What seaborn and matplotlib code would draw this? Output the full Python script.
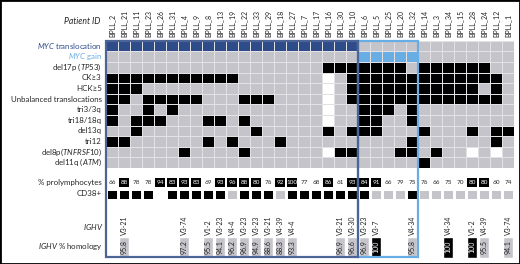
import numpy as np
import pandas as pd
import matplotlib.pyplot as plt
import seaborn as sns
from matplotlib.colors import ListedColormap, BoundaryNorm
from matplotlib.patches import Rectangle
from matplotlib.transforms import blended_transform_factory

# %% data
patients = ['BPLL_2', 'BPLL_21', 'BPLL_11', 'BPLL_23', 'BPLL_26', 'BPLL_31', 'BPLL_4', 'BPLL_9',
            'BPLL_8', 'BPLL_13', 'BPLL_19', 'BPLL_22', 'BPLL_33', 'BPLL_29', 'BPLL_18', 'BPLL_27',
            'BPLL_7', 'BPLL_17', 'BPLL_16', 'BPLL_30', 'BPLL_10', 'BPLL_6', 'BPLL_5', 'BPLL_25',
            'BPLL_20', 'BPLL_32', 'BPLL_14', 'BPLL_3', 'BPLL_34', 'BPLL_15', 'BPLL_28', 'BPLL_24',
            'BPLL_12', 'BPLL_1']

# 1 = present, 0 = absent, 2 = not available
myc_translocation = [1] * 21 + [0] * 13
myc_gain = [0] * 21 + [1] * 5 + [0] * 8
del17p = [0] * 18 + [1, 1, 1, 1, 1, 1, 1, 0, 1, 1, 1, 1, 1, 1, 0, 0]
ck3 = [1] * 11 + [0] * 7 + [2, 0] + [1] * 13 + [0]
hck5 = [1] * 3 + [0] * 15 + [2, 0] + [1] * 11 + [0, 1, 0]
unbalanced = [1, 1, 0, 1, 1, 1, 1, 1, 0, 0, 0, 1, 1, 1, 0, 0, 0, 0, 2, 0] + [1] * 13 + [0]
tri3 = [1, 0, 0, 1, 0, 1, 0, 0, 0, 0, 0, 0, 0, 0, 0, 0, 0, 0, 2, 0, 0, 1, 1, 1, 0, 1, 0, 0, 0, 0, 0, 0, 0, 0]
tri18 = [1, 0, 1, 1, 1, 0, 0, 0, 1, 1, 0, 1, 0, 0, 0, 0, 0, 0, 2, 0, 0, 1, 1, 0, 0, 1, 0, 0, 0, 0, 0, 0, 0, 0]
del13q = [0, 0, 1, 0, 0, 0, 0, 0, 0, 0, 0, 0, 1, 0, 0, 0, 0, 0, 1, 0, 1, 1, 1, 0, 0, 0, 1, 0, 0, 0, 1, 0, 1, 1]
tri12 = [1, 1, 0, 0, 0, 0, 0, 0, 1, 0, 1, 0, 0, 0, 1, 0, 0, 0, 0, 0, 0, 0, 0, 0, 0, 1, 0, 0, 0, 0, 0, 0, 1, 0]
del8p = [0, 0, 0, 0, 0, 0, 1, 0, 0, 0, 0, 1, 0, 0, 0, 0, 0, 0, 2, 1, 1, 0, 0, 0, 1, 1, 0, 1, 0, 0, 2, 0, 2, 0]
del11q = [0] * 26 + [1] + [0] * 7

prolymphocytes = [66, 88, 78, 78, 94, 83, 93, 83, 69, 93, 96, 88, 80, 76, 92, 100, 77, 68, 86, 61, 93,
                  84, 91, 66, 79, 75, 76, 66, 75, 70, 80, 80, 60, 74]
cd38 = [1, 1, 1, 1, np.nan, 1, 1, 1, 1, 1, 0, 1, 1, 1, 0, 1, 1, 1, 1, 1, 1,
        1, 0, 0, 0, 1, 0, 0, 0, 0, 0, 0, 0, 0]

ighv_gene = ['', 'V3-21', '', '', '', '', 'V3-74', '', 'V1-2', 'V3-23', 'V4-4', 'V3-23', 'V3-23',
             'V3-21', 'V4-39', 'V4-4', '', '', '', 'V3-21', 'V3-30', 'V3-23', 'V3-7', '', '',
             'V4-34', '', '', 'V4-34', '', 'V1-2', 'V4-39', '', 'V3-74']
ighv_homology = [np.nan, 95.8, np.nan, np.nan, np.nan, np.nan, 97.2, np.nan, 95.5, 94.1, 96.2, 96.9,
                 94.9, 88.6, 88.3, 93.3, np.nan, np.nan, np.nan, 96.9, 96.6, 96.9, 100, np.nan,
                 np.nan, 95.8, np.nan, np.nan, 100, np.nan, 100, 95.5, np.nan, 94.1]

row_labels = [r'$\mathit{MYC}$ translocation', r'$\mathit{MYC}$ gain', r'del17p ($\mathit{TP53}$)',
              'CK≥3', 'HCK≥5', 'Unbalanced translocations', 'tri3/3q', 'tri18/18q', 'del13q',
              'tri12', r'del8p($\mathit{TNFRSF10}$)', r'del11q ($\mathit{ATM}$)']

# %% colours
GREY = '#C6C4CB'
NAVY = '#2E4C8A'
LBLUE = '#68AEE4'
FS = 5.7

sns.set_style('white')
plt.rcParams['font.family'] = ['Lato', 'DejaVu Sans']
plt.rcParams['mathtext.fontset'] = 'custom'
plt.rcParams['mathtext.rm'] = 'Lato'
plt.rcParams['mathtext.it'] = 'Lato:italic'

# code matrix: 0 grey, 1 black, 2 white, 3 navy, 4 light blue
rows = [myc_translocation, myc_gain, del17p, ck3, hck5, unbalanced, tri3, tri18,
        del13q, tri12, del8p, del11q]
codes = np.array(rows, dtype=float)
codes[0][codes[0] == 1] = 3
codes[1][codes[1] == 1] = 4
grid_df = pd.DataFrame(codes, index=row_labels, columns=patients)

W, H = 520, 264
fig = plt.figure(figsize=(W / 100, H / 100), dpi=100)


def box(x0, x1, y_top, y_bot):
    return [x0 / W, 1 - y_bot / H, (x1 - x0) / W, (y_bot - y_top) / H]


x_left, x_right = 106, 514
ax_grid = fig.add_axes(box(x_left, x_right, 40.7, 168))
ax_pro = fig.add_axes(box(x_left, x_right, 176.5, 187.5))
ax_cd = fig.add_axes(box(x_left, x_right, 188.5, 199.5))
ax_ig = fig.add_axes(box(x_left, x_right, 203, 259))

grid_cmap = ListedColormap([GREY, 'black', 'white', NAVY, LBLUE])
sns.heatmap(grid_df, ax=ax_grid, cmap=grid_cmap, vmin=-0.5, vmax=4.5, cbar=False,
            linewidths=0.6, linecolor='#E2E1E6', xticklabels=True, yticklabels=True)
ax_grid.xaxis.tick_top()
ax_grid.set_xticklabels(patients, rotation=90, fontsize=5.0, color='#222222')
ax_grid.set_yticklabels(row_labels, rotation=0, fontsize=FS)
ax_grid.tick_params(length=0, pad=3)
ax_grid.set_xlabel('')
ax_grid.set_ylabel('')
ax_grid.get_yticklabels()[0].set_color(NAVY)
ax_grid.get_yticklabels()[1].set_color(LBLUE)

pro_df = pd.DataFrame([prolymphocytes], index=['% prolymphocytes'], columns=patients)
sns.heatmap(pro_df, ax=ax_pro, cmap=ListedColormap(['white', 'black']),
            norm=BoundaryNorm([0, 80, 200], 2), cbar=False, annot=True, fmt='d',
            annot_kws={'fontsize': 4.6}, linewidths=1.2, linecolor='white',
            xticklabels=False, yticklabels=True)
ax_pro.set_yticklabels(['% prolymphocytes'], rotation=0, fontsize=FS)
ax_pro.tick_params(length=0, pad=3)

cd_df = pd.DataFrame([cd38], index=['CD38+'], columns=patients)
sns.heatmap(cd_df, ax=ax_cd, cmap=ListedColormap([GREY, 'black']), vmin=-0.5, vmax=1.5,
            cbar=False, linewidths=0.8, linecolor='white', xticklabels=False, yticklabels=True)
ax_cd.set_yticklabels(['CD38+'], rotation=0, fontsize=FS)
ax_cd.tick_params(length=0, pad=3)

# IGHV gene + homology
xs = np.arange(len(patients)) + 0.5
hom = np.array(ighv_homology)
has = ~np.isnan(hom)
ax_ig.bar(xs[has], 0.38, bottom=0.02, width=0.86,
          color=['black' if v >= 99.5 else GREY for v in hom[has]])
for x, g, v in zip(xs, ighv_gene, hom):
    if g:
        ax_ig.text(x, 0.42, g, rotation=90, ha='center', va='bottom', fontsize=5.0, color='#222222')
    if not np.isnan(v):
        lab = '100' if v >= 99.5 else f'{v:.1f}'
        ax_ig.text(x, 0.21, lab, rotation=90, ha='center', va='center', fontsize=5.0,
                   color='white' if v >= 99.5 else '#222222')
ax_ig.set_xlim(0, len(patients))
ax_ig.set_ylim(0, 1)
ax_ig.axis('off')

fig.text(103 / W, 1 - 227 / H, r'$\mathit{IGHV}$', ha='right', va='center', fontsize=FS)
fig.text(103 / W, 1 - 247 / H, r'$\mathit{IGHV}$ % homology', ha='right', va='center', fontsize=FS)
fig.text(100 / W, 1 - 22 / H, 'Patient ID', ha='right', va='center', fontsize=6.2, style='italic')

# group boxes
tr = blended_transform_factory(ax_grid.transData, fig.transFigure)
fig.add_artist(Rectangle((21, 1 - 257 / H), 5, (257 - 40.7) / H, transform=tr, fill=False,
                         ec=LBLUE, lw=1.6, clip_on=False))
fig.add_artist(Rectangle((0, 1 - 257 / H), 21, (257 - 40.7) / H, transform=tr, fill=False,
                         ec='#4C6596', lw=1.6, clip_on=False))
fig.add_artist(Rectangle((0, 0), 1, 1, transform=fig.transFigure, fill=False, ec='black', lw=2))

fig.savefig('out.png', dpi=100)
